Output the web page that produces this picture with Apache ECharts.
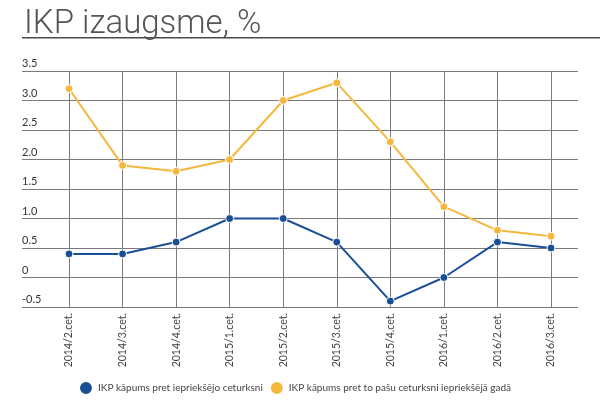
<!DOCTYPE html>
<html>
<head>
<meta charset="utf-8">
<script src="https://cdn.jsdelivr.net/npm/echarts@6/dist/echarts.min.js"></script>
<style>
  html, body { margin: 0; padding: 0; background: #fff; }
  #chart { width: 600px; height: 407px; }
</style>
</head>
<body>
<div id="chart"></div>
<script>
  // Quarters and growth figures
  const quarters = ['2014/2.cet.', '2014/3.cet.', '2014/4.cet.', '2015/1.cet.', '2015/2.cet.',
    '2015/3.cet.', '2015/4.cet.', '2016/1.cet.', '2016/2.cet.', '2016/3.cet.'];
  const qoqGrowth = [0.4, 0.4, 0.6, 1.0, 1.0, 0.6, -0.4, 0.0, 0.6, 0.5];
  const yoyGrowth = [3.2, 1.9, 1.8, 2.0, 3.0, 3.3, 2.3, 1.2, 0.8, 0.7];
  const seriesNames = ['IKP kāpums pret iepriekšējo ceturksni', 'IKP kāpums pret to pašu ceturksni iepriekšējā gadā'];

  const narrow = "Lato, Roboto, sans-serif";
  const gridColor = '#7a7a7a';

  const chart = echarts.init(document.getElementById('chart'));

  const yCommon = {
    type: 'value',
    min: -0.5,
    max: 3.5,
    interval: 0.5,
    axisLine: { show: false },
    axisTick: { show: false }
  };

  chart.setOption({
    animation: false,
    title: {
      text: 'IKP izaugsme, %',
      left: 19,
      top: 3,
      textStyle: { fontFamily: 'Roboto', fontWeight: 300, fontSize: 33, color: '#555' }
    },
    graphic: [{
      type: 'rect',
      shape: { x: 22, y: 37, width: 578, height: 1.6 },
      style: { fill: '#4a4a4a' }
    }],
    legend: {
      left: 73,
      top: 375,
      icon: 'circle',
      itemWidth: 14,
      itemHeight: 14,
      itemGap: 6,
      textStyle: { fontFamily: narrow, fontSize: 10, color: '#444' },
      data: seriesNames
    },
    grid: [
      { left: 69, right: 49, top: 71, bottom: 100 },
      { left: 22, right: 22, top: 71, bottom: 100 }
    ],
    xAxis: [{
      gridIndex: 0,
      type: 'category',
      data: quarters,
      boundaryGap: false,
      axisLine: { show: false },
      axisTick: { show: false },
      splitLine: { show: true, lineStyle: { color: gridColor, width: 1 } },
      axisLabel: {
        rotate: 90,
        margin: 6,
        interval: 0,
        fontFamily: narrow,
        fontSize: 10.5,
        color: '#444'
      }
    }, {
      gridIndex: 1,
      type: 'value',
      show: false
    }],
    yAxis: [Object.assign({}, yCommon, {
      gridIndex: 0,
      axisLabel: { show: false },
      splitLine: { show: false }
    }), Object.assign({}, yCommon, {
      gridIndex: 1,
      splitLine: { show: true, lineStyle: { color: gridColor, width: 1 } },
      axisLabel: {
        inside: true,
        margin: 0,
        verticalAlign: 'bottom',
        padding: [0, 0, 2, 0],
        fontFamily: narrow,
        fontSize: 11,
        color: '#333',
        formatter: v => (v === 0 ? '0' : v.toFixed(1))
      }
    })],
    series: [{
      name: seriesNames[0],
      type: 'line',
      xAxisIndex: 0,
      yAxisIndex: 0,
      data: qoqGrowth,
      symbol: 'circle',
      symbolSize: 8,
      itemStyle: { color: '#1a4f96', borderColor: '#fff', borderWidth: 1 },
      lineStyle: { color: '#1a4f96', width: 2 },
      z: 3
    }, {
      name: seriesNames[1],
      type: 'line',
      xAxisIndex: 0,
      yAxisIndex: 0,
      data: yoyGrowth,
      symbol: 'circle',
      symbolSize: 8,
      itemStyle: { color: '#f5b83d', borderColor: '#fff', borderWidth: 1 },
      lineStyle: { color: '#f5b83d', width: 2 },
      z: 2
    }]
  });
</script>
</body>
</html>
